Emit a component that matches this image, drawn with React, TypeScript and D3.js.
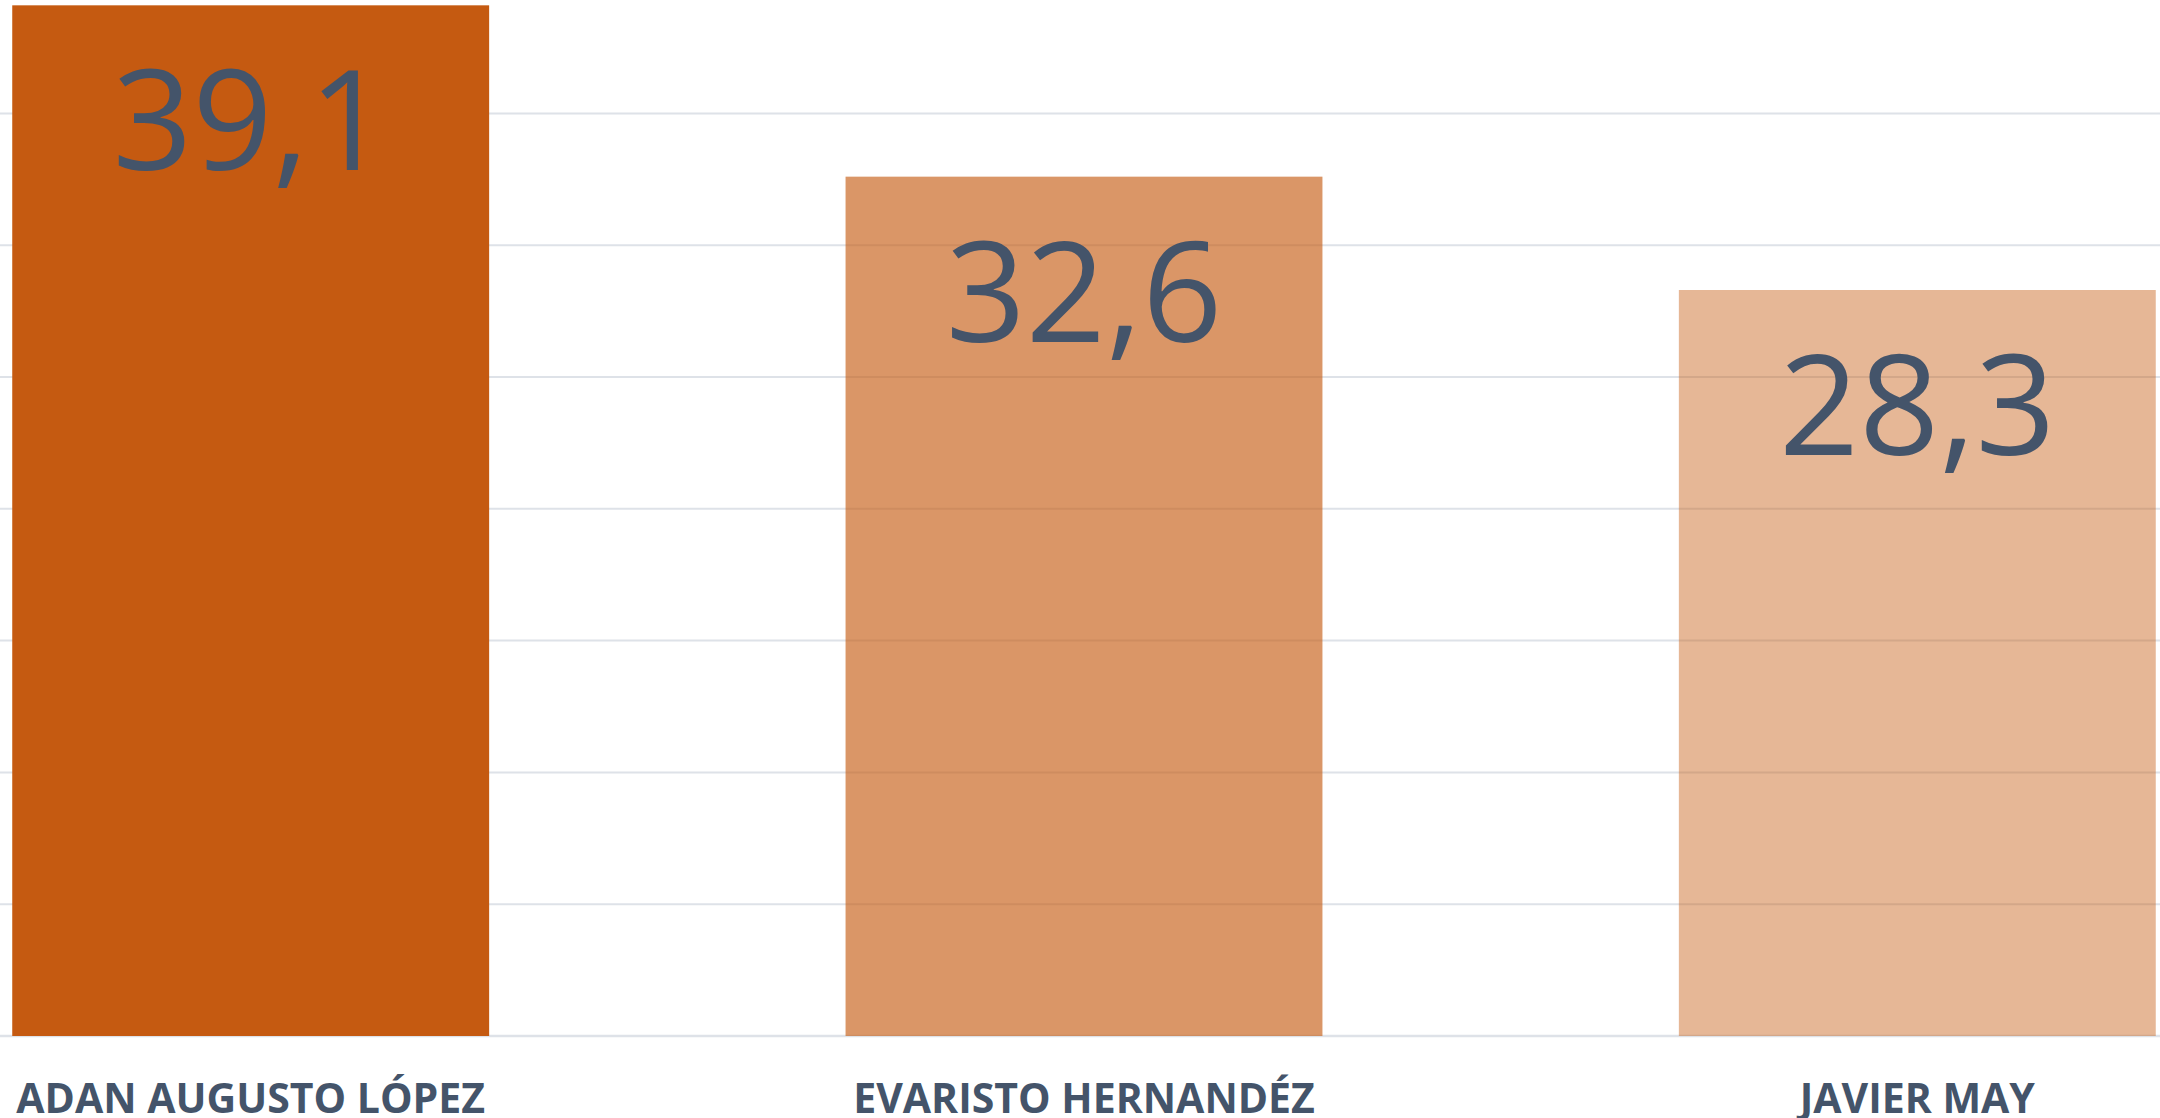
import React, { useEffect, useRef } from 'react';
import * as d3 from 'd3';

// datos del gráfico
const candidates = ['ADAN AUGUSTO LÓPEZ', 'EVARISTO HERNANDÉZ', 'JAVIER MAY'];
const values = [39.1, 32.6, 28.3];
const barOpacity = [1, 0.64, 0.44];
const gridTicks = [0, 5, 10, 15, 20, 25, 30, 35];

const App = () => {
  const svgRef = useRef<SVGSVGElement | null>(null);
  const width = 2160;
  const height = 1118;

  useEffect(() => {
    const svg = d3.select(svgRef.current);
    svg.selectAll('*').remove();

    const xScale = d3.scaleBand<string>()
      .domain(candidates)
      .range([-166, 2334])
      .paddingInner(0.4277)
      .paddingOuter(0.2139);

    const yScale = d3.scaleLinear()
      .domain([0, 40])
      .range([1036, -18.4]);

    // líneas de cuadrícula
    svg.append('g')
      .selectAll('line')
      .data(gridTicks)
      .enter()
      .append('line')
      .attr('x1', 0)
      .attr('x2', width)
      .attr('y1', d => yScale(d))
      .attr('y2', d => yScale(d))
      .style('stroke', '#DEE2E8')
      .style('stroke-width', d => (d === 0 ? 2.5 : 2));

    const data = candidates.map((c, i) => ({ name: c, value: values[i], opacity: barOpacity[i] }));

    // barras
    svg.append('g')
      .selectAll('rect')
      .data(data)
      .enter()
      .append('rect')
      .attr('x', d => xScale(d.name)!)
      .attr('y', d => yScale(d.value))
      .attr('width', xScale.bandwidth())
      .attr('height', d => yScale(0) - yScale(d.value))
      .style('fill', '#C55A11')
      .style('fill-opacity', d => d.opacity);

    // etiquetas de valor
    svg.append('g')
      .selectAll('text')
      .data(data)
      .enter()
      .append('text')
      .attr('x', d => xScale(d.name)! + xScale.bandwidth() / 2)
      .attr('y', d => yScale(d.value) + 165)
      .attr('text-anchor', 'middle')
      .text(d => d.value.toFixed(1).replace('.', ','))
      .style('fill', '#44546A')
      .style('font-family', '"Open Sans", sans-serif')
      .style('font-size', '140px');

    // etiquetas de categoría
    svg.append('g')
      .selectAll('text')
      .data(data)
      .enter()
      .append('text')
      .attr('x', d => xScale(d.name)! + xScale.bandwidth() / 2)
      .attr('y', 1113)
      .attr('text-anchor', 'middle')
      .text(d => d.name)
      .style('fill', '#44546A')
      .style('font-family', '"Open Sans", sans-serif')
      .style('font-weight', 700)
      .style('font-size', '41px');
  }, []);

  return (
    <svg
      ref={svgRef}
      width={width}
      height={height}
      style={{ position: 'absolute', left: 0, top: 0, background: '#fff' }}
    ></svg>
  );
};

export default App;
